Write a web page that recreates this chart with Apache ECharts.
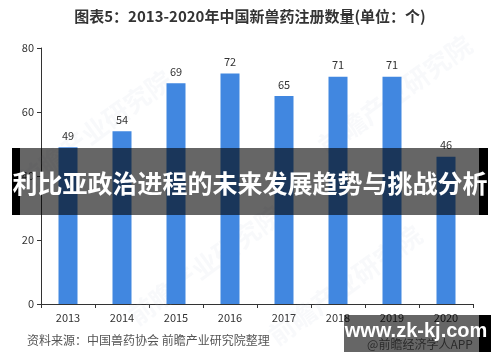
<!DOCTYPE html>
<html><head><meta charset="utf-8">
<script src="https://cdn.jsdelivr.net/npm/echarts@6/dist/echarts.min.js"></script>
<style>html,body{margin:0;padding:0;background:#fff}#c{width:500px;height:362px}</style>
</head><body><div id="c"></div>
<script>
const categories = ['2013','2014','2015','2016','2017','2018','2019','2020'];
const registrations = [49, 54, 69, 72, 65, 71, 71, 46];
const yTicks = [0, 20, 40, 60, 80];
const titleText = '图表5：2013-2020年中国新兽药注册数量(单位：个)';
const sourceText = '资料来源：中国兽药协会 前瞻产业研究院整理';
const bannerText = '利比亚政治进程的未来发展趋势与挑战分析';
const siteText = 'www.zk-kj.com';
const appText = '@前瞻经济学人APP';

const chart = echarts.init(document.getElementById('c'), null, {renderer:'canvas'});
const font = '"Noto Sans CJK SC", "Liberation Sans", sans-serif';
const wm = (x, y) => ({
  type:'text', x:x, y:y, rotation: Math.PI*0.2, z:1,
  style:{text:'前瞻产业研究院', font:'bold 26px ' + font, fill:'rgba(190,200,215,0.11)', textAlign:'center', textVerticalAlign:'middle'}
});
chart.setOption({
  animation:false,
  textStyle:{fontFamily:font},
  grid:{left:41, right:27, top:48, bottom:58, containLabel:false},
  xAxis:{
    type:'category', data:categories, boundaryGap:true,
    axisLine:{lineStyle:{color:'#333', width:1}},
    axisTick:{show:true, length:4, lineStyle:{color:'#333'}},
    axisLabel:{color:'#333', fontSize:11, margin:8}
  },
  yAxis:{
    type:'value', min:yTicks[0], max:yTicks[yTicks.length-1], interval:20,
    axisLine:{show:true, lineStyle:{color:'#333', width:1}},
    axisTick:{show:true, length:4, lineStyle:{color:'#333'}},
    axisLabel:{color:'#333', fontSize:11, margin:7},
    splitLine:{show:false}
  },
  series:[{
    type:'bar', data:registrations, barWidth:19,
    itemStyle:{color:'#4187e0'},
    label:{show:true, position:'top', color:'#333', fontSize:11, distance:6},
    z:2
  }],
  graphic:[
    wm(95, 130), wm(205, 265), wm(395, 95), wm(345, 285),
    {type:'text', left:'center', top:9, z:10,
     style:{text:titleText, font:'bold 15px ' + font, fill:'#333'}},
    {type:'text', left:27, top:334, z:10,
     style:{text:sourceText, font:'12px ' + font, fill:'#555'}},
    {type:'rect', shape:{x:12, y:148, width:476, height:67}, z:20,
     style:{fill:'rgba(0,0,0,0.6)'}},
    {type:'rect', shape:{x:12, y:148, width:8, height:67}, z:21, style:{fill:'#000'}},
    {type:'rect', shape:{x:479, y:148, width:9, height:67}, z:21, style:{fill:'#000'}},
    {type:'text', x:250, y:183, z:22,
     style:{text:bannerText, font:'bold 25px ' + font, fill:'#fff', textAlign:'center', textVerticalAlign:'middle'}},
    {type:'rect', shape:{x:344, y:315, width:135, height:37}, z:20, style:{fill:'rgba(0,0,0,0.6)'}},
    {type:'rect', shape:{x:479, y:315, width:12, height:37}, z:21, style:{fill:'#000'}},
    {type:'text', x:420, y:344, z:22,
     style:{text:appText, font:'12px ' + font, fill:'#2a2a2a', textAlign:'center', textVerticalAlign:'middle'}},
    {type:'text', x:416, y:331, z:23,
     style:{text:siteText, font:'bold 20px "Liberation Sans", Arial, sans-serif', fill:'#fff', textAlign:'center', textVerticalAlign:'middle'}}
  ]
});
</script></body></html>
